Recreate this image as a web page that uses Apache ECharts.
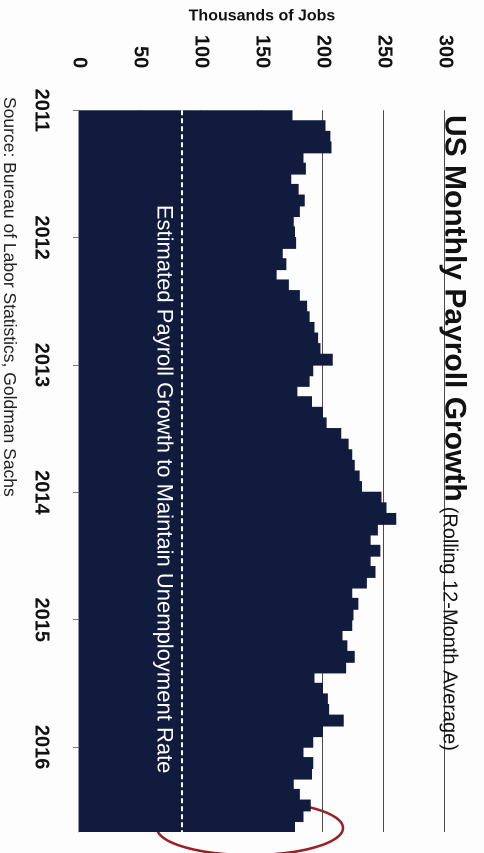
<!DOCTYPE html>
<html>
<head>
<meta charset="utf-8">
<script src="https://cdn.jsdelivr.net/npm/echarts@6/dist/echarts.min.js"></script>
<style>
  html, body { margin: 0; padding: 0; background: #fdfdfd; overflow: hidden; }
  /* the chart is laid out landscape, then turned a quarter clockwise */
  #chart {
    position: absolute; left: 0; top: 0;
    width: 853px; height: 484px;
    transform-origin: 0 0;
    transform: translate(484px, 0) rotate(90deg);
  }
</style>
</head>
<body>
<div id="chart"></div>
<script>
var years = ['2011', '2012', '2013', '2014', '2015', '2016'];
var monthNames = ['Jan', 'Feb', 'Mar', 'Apr', 'May', 'Jun', 'Jul', 'Aug', 'Sep', 'Oct', 'Nov', 'Dec'];

// rolling 12-month average, thousands of jobs
var jobs2011 = [175, 202, 206, 207, 184, 186, 174, 180, 185, 181, 176, 177];
var jobs2012 = [178, 167, 170, 162, 172, 181, 187, 189, 193, 196, 198, 208];
var jobs2013 = [192, 189, 179, 191, 200, 203, 215, 221, 224, 226, 230, 232];
var jobs2014 = [248, 252, 260, 245, 239, 247, 239, 243, 236, 224, 229, 225];
var jobs2015 = [224, 216, 220, 226, 219, 193, 200, 204, 205, 217, 200, 192];
var jobs2016 = [184, 192, 191, 176, 181, 190, 184, 177];

var breakEven = 85;
var yearTicks = [0, 12, 24, 36, 48, 60];

var allJobs = [jobs2011, jobs2012, jobs2013, jobs2014, jobs2015, jobs2016];
var months = [];
var values = [];
allJobs.forEach(function (arr, i) {
  arr.forEach(function (v, m) {
    months.push(monthNames[m] + ' ' + years[i]);
    values.push(v);
  });
});

var font = '"Liberation Sans", Arial, sans-serif';
var chart = echarts.init(document.getElementById('chart'), null, { devicePixelRatio: 2 });

chart.setOption({
  backgroundColor: '#fdfdfd',
  animation: false,
  title: {
    left: 110,
    top: 6,
    text: '{a|US Monthly Payroll Growth} {b|(Rolling 12-Month Average)}',
    textStyle: {
      rich: {
        a: { fontFamily: font, fontSize: 30, fontWeight: 'bold', color: '#111', verticalAlign: 'bottom', lineHeight: 34 },
        b: { fontFamily: font, fontSize: 20, fontWeight: 'normal', color: '#111', verticalAlign: 'bottom', lineHeight: 30 }
      }
    }
  },
  grid: { left: 102, right: 21, top: 39, bottom: 79 },
  xAxis: [
    {
      type: 'category',
      data: months,
      axisLine: { show: true, lineStyle: { color: '#8b93ad', width: 1 } },
      axisTick: { show: false },
      axisLabel: { show: false },
      splitLine: { show: false }
    },
    {
      // year ticks sit on the January boundaries, so a value axis in months carries them
      type: 'value',
      position: 'bottom',
      min: 0,
      max: months.length,
      interval: 12,
      axisLine: { show: false },
      splitLine: { show: false },
      axisTick: { show: true, customValues: yearTicks, length: 6, lineStyle: { color: '#777' } },
      axisLabel: {
        customValues: yearTicks,
        margin: 28,
        fontFamily: font,
        fontSize: 20,
        fontWeight: 'bold',
        color: '#111',
        formatter: function (v) { return v % 12 === 0 ? years[v / 12] : ''; }
      }
    }
  ],
  yAxis: {
    type: 'value',
    min: 0,
    max: 300,
    interval: 50,
    name: 'Thousands of Jobs',
    nameLocation: 'middle',
    nameGap: 68,
    nameTextStyle: { fontFamily: font, fontSize: 16, fontWeight: 'bold', color: '#111' },
    axisLine: { show: false },
    axisTick: { show: false },
    axisLabel: { margin: 42, fontFamily: font, fontSize: 20, fontWeight: 'bold', color: '#111' },
    splitLine: { lineStyle: { color: '#4a4a4a', width: 1 } }
  },
  series: [
    {
      type: 'bar',
      xAxisIndex: 0,
      data: values,
      barWidth: '112%', // slight overlap hides the seams between bars
      itemStyle: { color: '#101b3e' },
      markLine: {
        silent: true,
        symbol: 'none',
        lineStyle: { color: '#ffffff', type: [5, 3], width: 2 },
        label: {
          show: true,
          position: 'insideMiddleBottom',
          distance: 8,
          padding: [0, 0, 0, 36],
          formatter: 'Estimated Payroll Growth to Maintain Unemployment Rate',
          fontFamily: font,
          fontSize: 22,
          color: '#ffffff'
        },
        data: [{ yAxis: breakEven }]
      }
    }
  ],
  graphic: [
    {
      type: 'text',
      left: 97,
      top: 466,
      style: {
        text: 'Source: Bureau of Labor Statistics, Goldman Sachs',
        font: '17.5px ' + font,
        fill: '#222'
      }
    },
    {
      type: 'ellipse',
      shape: { cx: 828, cy: 234, rx: 27, ry: 93 },
      style: { fill: 'none', stroke: '#9a1f22', lineWidth: 2.5 }
    }
  ]
});
</script>
</body>
</html>
